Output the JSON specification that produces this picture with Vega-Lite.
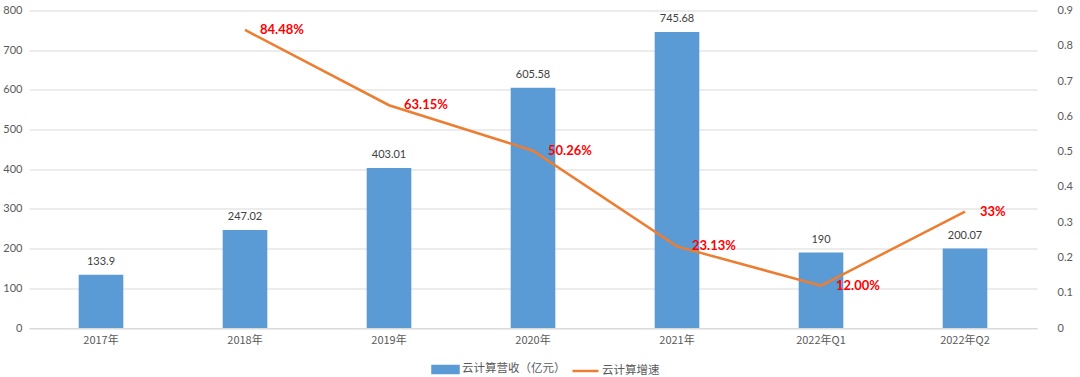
{
  "$schema": "https://vega.github.io/schema/vega-lite/v6.json",
  "width": 1008,
  "height": 317.5,
  "autosize": {"type": "none"},
  "padding": {"left": 29, "top": 10.5, "right": 43, "bottom": 49},
  "background": "white",
  "config": {
    "view": {"stroke": null},
    "font": "Lato",
    "axis": {"labelFont": "Lato", "labelColor": "#595959", "labelFontSize": 11, "ticks": false, "title": null, "labelOverlap": false},
    "legend": {"labelFont": "Noto Sans CJK SC", "labelColor": "#595959", "labelFontSize": 11.5}
  },
  "data": {
    "values": [
      {"period": "2017年", "revenue": 133.9, "growth": null, "growthLabel": ""},
      {"period": "2018年", "revenue": 247.02, "growth": 0.8448, "growthLabel": "84.48%"},
      {"period": "2019年", "revenue": 403.01, "growth": 0.6315, "growthLabel": "63.15%"},
      {"period": "2020年", "revenue": 605.58, "growth": 0.5026, "growthLabel": "50.26%"},
      {"period": "2021年", "revenue": 745.68, "growth": 0.2313, "growthLabel": "23.13%"},
      {"period": "2022年Q1", "revenue": 190, "growth": 0.12, "growthLabel": "12.00%"},
      {"period": "2022年Q2", "revenue": 200.07, "growth": 0.33, "growthLabel": "33%"}
    ]
  },
  "encoding": {
    "x": {
      "field": "period",
      "type": "nominal",
      "sort": null,
      "scale": {"paddingInner": 0.69, "paddingOuter": 0.345},
      "axis": {"labelAngle": 0, "labelPadding": 6, "domainColor": "#d9d9d9", "domainWidth": 1, "labelFont": "Noto Sans CJK SC", "labelFontSize": 11}
    }
  },
  "layer": [
    {
      "encoding": {
        "y": {
          "field": "revenue",
          "type": "quantitative",
          "scale": {"domain": [0, 800], "nice": false},
          "axis": {"values": [0, 100, 200, 300, 400, 500, 600, 700, 800], "grid": true, "gridColor": "#d9d9d9", "domain": false, "labelPadding": 7}
        }
      },
      "layer": [
        {
          "mark": {"type": "bar", "color": "#5B9BD5"},
          "encoding": {
            "color": {
              "datum": "云计算营收（亿元）",
              "type": "nominal",
              "scale": {"domain": ["云计算营收（亿元）", "云计算增速"], "range": ["#5B9BD5", "#ED7D31"]},
              "legend": {
                "orient": "none",
                "direction": "horizontal",
                "legendX": 402,
                "legendY": 344,
                "title": null,
                "columnPadding": 1,
                "labelOffset": 2,
                "symbolSize": 676,
                "encode": {
                  "symbols": {
                    "update": {
                      "shape": {"signal": "datum.value === '云计算增速' ? 'M-1,0H1' : 'M-1,-0.27H1V0.27H-1Z'"},
                      "fill": {"signal": "datum.value === '云计算增速' ? 'transparent' : '#5B9BD5'"},
                      "stroke": {"signal": "datum.value === '云计算增速' ? '#ED7D31' : 'transparent'"},
                      "strokeWidth": {"value": 2.5},
                      "opacity": {"value": 1}
                    }
                  }
                }
              }
            }
          }
        },
        {
          "mark": {"type": "text", "baseline": "bottom", "dy": -8, "fontSize": 11, "color": "#404040", "font": "Lato"},
          "encoding": {
            "text": {"field": "revenue", "type": "quantitative"}
          }
        }
      ]
    },
    {
      "transform": [{"filter": "datum.growth != null"}],
      "encoding": {
        "y": {
          "field": "growth",
          "type": "quantitative",
          "scale": {"domain": [0, 0.9], "nice": false},
          "axis": {"orient": "right", "values": [0, 0.1, 0.2, 0.3, 0.4, 0.5, 0.6, 0.7, 0.8, 0.9], "format": ".1~f", "grid": false, "domain": false, "labelPadding": 20}
        }
      },
      "layer": [
        {
          "mark": {"type": "line", "strokeWidth": 2.5, "color": "#ED7D31"},
          "encoding": {
            "color": {"datum": "云计算增速", "type": "nominal"}
          }
        },
        {
          "mark": {"type": "text", "align": "left", "baseline": "middle", "dx": 15, "fontSize": 13, "fontWeight": "bold", "color": "#FF0000", "font": "Lato"},
          "encoding": {
            "text": {"field": "growthLabel", "type": "nominal"}
          }
        }
      ]
    }
  ],
  "resolve": {"scale": {"y": "independent"}}
}
